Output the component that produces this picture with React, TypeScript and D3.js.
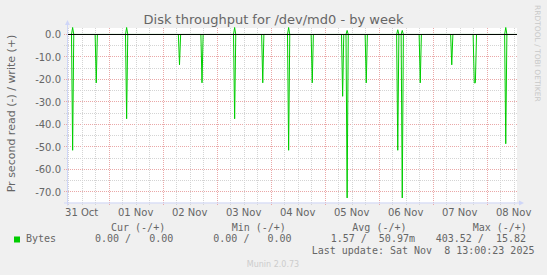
import React from "react";
import * as d3 from "d3";

// ---- Data ----
const spikeTimes = [
  "2025-10-31T08:00", "2025-10-31T18:30", "2025-11-01T08:00", "2025-11-02T07:30",
  "2025-11-02T17:30", "2025-11-03T08:00", "2025-11-03T20:30", "2025-11-04T08:00",
  "2025-11-04T18:30", "2025-11-05T08:00", "2025-11-05T10:00", "2025-11-05T18:30",
  "2025-11-06T08:30", "2025-11-06T10:30", "2025-11-06T18:30", "2025-11-07T08:30",
  "2025-11-07T18:30", "2025-11-07T19:00", "2025-11-08T08:30",
];
const readValues = [
  -51.5, -21.5, -37.5, -13.5,
  -21.5, -37.5, -21.5, -51.5,
  -21.5, -27.5, -72.7, -21.5,
  -51.5, -72.7, -21.5, -13.5,
  -21.5, -21.5, -48.6,
];
const writeValues = [
  3.1, 0, 3.1, 0,
  0, 3.1, 0, 3.1,
  0, 0, 1.8, 0,
  2.1, 1.8, 0, 0,
  0, 0, 3.1,
];
const rangeStart = "2025-10-31T05:30";
const rangeEnd = "2025-11-08T13:30";
const yTicks = [0, -10, -20, -30, -40, -50, -60, -70];
const yMinor = [0, -5, -10, -15, -20, -25, -30, -35, -40, -45, -50, -55, -60, -65, -70];
const dayLabels = ["31 Oct", "01 Nov", "02 Nov", "03 Nov", "04 Nov", "05 Nov", "06 Nov", "07 Nov", "08 Nov"];
const legendHeaders = ["Cur (-/+)", "Min (-/+)", "Avg (-/+)", "Max (-/+)"];
const legendValues = ["0.00 /   0.00", "0.00 /   0.00", "1.57 /  50.97m", "403.52 /  15.82"];
const seriesName = "Bytes";
const title = "Disk throughput for /dev/md0 - by week";
const yLabel = "Pr second read (-) / write (+)";
const lastUpdate = "Last update: Sat Nov  8 13:00:23 2025";

const parse = d3.utcParse("%Y-%m-%dT%H:%M");

export default function App() {
  const W = 547, H = 275;
  const left = 67, right = 517, top = 28, bottom = 202.5;
  const t0 = parse(rangeStart)!;
  const t1 = parse(rangeEnd)!;
  const x = d3.scaleUtc().domain([t0, t1]).range([left, right]);
  const y = d3.scaleLinear().domain([-74.5, 3.1]).range([bottom - 0.5, top - 0.5]);

  const steps = d3.utcMinute.every(30)!.range(t0, d3.utcMinute.offset(t1, 1));
  const readMap = new Map<number, number>();
  const writeMap = new Map<number, number>();
  spikeTimes.forEach((s, i) => {
    const t = parse(s)!.getTime();
    readMap.set(t, readValues[i]);
    writeMap.set(t, writeValues[i]);
  });
  const readSeries = steps.map((t) => ({ t, v: readMap.get(t.getTime()) ?? 0 }));
  const writeSeries = steps.map((t) => ({ t, v: writeMap.get(t.getTime()) ?? 0 }));
  const line = d3.line<{ t: Date; v: number }>().x((d) => x(d.t)).y((d) => y(d.v));

  const hours6 = d3.utcHour.every(6)!.range(d3.utcHour.ceil(t0), t1);
  const noons = d3.utcDay.range(d3.utcDay.floor(t0), t1).map((d) => d3.utcHour.offset(d, 12));

  const minorColor = "#d4d4d4";
  const majorColor = "#eaa8a8";
  const axisColor = "#CFD6F8";
  const font = "#666666";

  const legendX = [111, 231.7, 352.3, 472.7];
  const valueX = [95, 213.3, 330.7, 435.7];
  const zeroY = y(0);

  return (
    <svg width={W} height={H} style={{ position: "absolute", left: 0, top: 0, display: "block" }}>
      <rect x={0} y={0} width={W} height={H} fill="#f0f0f0" />
      <rect x={left} y={top} width={right - left} height={bottom - top} fill="#ffffff" />
      <defs>
        <clipPath id="plotclip">
          <rect x={left} y={top - 1} width={right - left} height={bottom - top + 1} />
        </clipPath>
      </defs>
      {yMinor.map((v) => (
        <line key={"hm" + v} x1={left - 3} x2={right} y1={Math.round(y(v) - 0.5) + 0.5} y2={Math.round(y(v) - 0.5) + 0.5}
          stroke={v % 10 === 0 ? majorColor : minorColor} strokeDasharray="1,1" />
      ))}
      {hours6.map((t) => {
        const isMid = t.getUTCHours() === 0;
        return (
          <line key={"v" + t.getTime()} x1={Math.round(x(t)) + 0.5} x2={Math.round(x(t)) + 0.5}
            y1={top} y2={bottom + 3} stroke={isMid ? majorColor : minorColor} strokeDasharray="1,1" />
        );
      })}
      <g clipPath="url(#plotclip)">
        <path d={line(readSeries) ?? ""} fill="none" stroke="#00cc00" strokeWidth={1} />
        <path d={line(writeSeries) ?? ""} fill="none" stroke="#00cc00" strokeWidth={1} />
      </g>
      <line x1={left} x2={right} y1={zeroY} y2={zeroY} stroke="#000" strokeWidth={1} />
      <line x1={left - 3} x2={right + 3} y1={bottom + 0.5} y2={bottom + 0.5} stroke={axisColor} />
      <line x1={left + 0.5} x2={left + 0.5} y1={bottom + 3} y2={top - 4} stroke={axisColor} />
      <polygon points={`${right + 2},${bottom - 2} ${right + 2},${bottom + 3} ${right + 7},${bottom + 0.5}`} fill={axisColor} />
      <polygon points={`${left - 2},${top - 3} ${left + 3},${top - 3} ${left + 0.5},${top - 8}`} fill={axisColor} />
      {yTicks.map((v) => (
        <text key={"yl" + v} x={61} y={y(v) + 4} textAnchor="end" fontFamily="DejaVu Sans"
          fontSize={10} fill={font}>{v.toFixed(1)}</text>
      ))}
      {noons.map((t, i) => (
        <text key={"xl" + i} x={x(t)} y={215.5} textAnchor="middle" fontFamily="DejaVu Sans"
          fontSize={10} fill={font}>{dayLabels[i]}</text>
      ))}
      <text x={273.5} y={24.3} textAnchor="middle" fontFamily="DejaVu Sans" fontSize={13} fill={font}>{title}</text>
      <text transform={`translate(14.5,113.5) rotate(-90)`} textAnchor="middle" fontFamily="DejaVu Sans"
        fontSize={11} fill={font}>{yLabel}</text>
      <text transform={`translate(535,5) rotate(90)`} textAnchor="start" fontFamily="DejaVu Sans"
        fontSize={7.5} fill="#c8c8c8">RRDTOOL / TOBI OETIKER</text>
      <rect x={14} y={236.5} width={6} height={6} fill="#00cc00" />
      <text x={26} y={242.3} fontFamily="DejaVu Sans Mono" fontSize={10} fill={font}>{seriesName}</text>
      {legendHeaders.map((h, i) => (
        <text key={"lh" + i} x={legendX[i]} y={230.5} fontFamily="DejaVu Sans Mono" fontSize={10}
          fill={font} style={{ whiteSpace: "pre" }}>{h}</text>
      ))}
      {legendValues.map((v, i) => (
        <text key={"lv" + i} x={valueX[i]} y={242.3} fontFamily="DejaVu Sans Mono" fontSize={10}
          fill={font} style={{ whiteSpace: "pre" }}>{v}</text>
      ))}
      <text x={311.7} y={254} fontFamily="DejaVu Sans Mono" fontSize={10} fill={font}
        style={{ whiteSpace: "pre" }}>{lastUpdate}</text>
      <text x={273} y={266.5} textAnchor="middle" fontFamily="DejaVu Sans" fontSize={8} fill="#cccccc">Munin 2.0.73</text>
    </svg>
  );
}
